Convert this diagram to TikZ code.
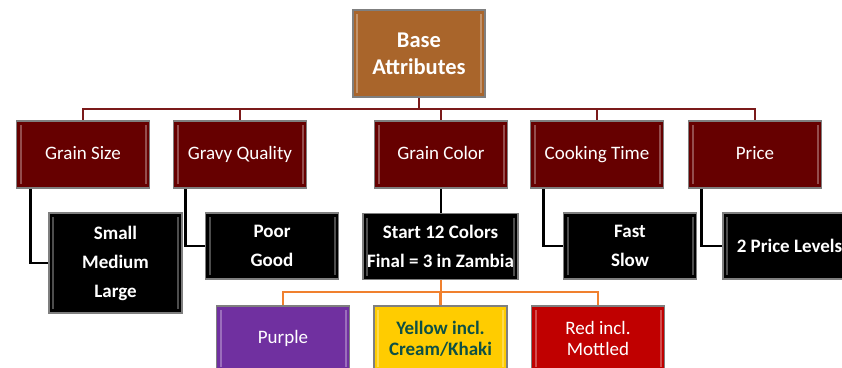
\documentclass[tikz,border=0pt]{standalone}
\usepackage{fontspec}
\setmainfont{Carlito}
\usetikzlibrary{calc}
\definecolor{basec}{HTML}{A9652B}
\definecolor{maroonc}{HTML}{660000}
\definecolor{purplec}{HTML}{7030A0}
\definecolor{yellowc}{HTML}{FFCC00}
\definecolor{yellowtext}{HTML}{0D5045}
\definecolor{redc}{HTML}{C00000}
\definecolor{boxborder}{HTML}{7F7F7F}
\definecolor{linkred}{HTML}{7B1A1A}
\definecolor{linkorange}{HTML}{F0802E}
\tikzset{
  box/.style={draw=boxborder, line width=1.6pt, inner sep=0pt, align=center, text=white,
    minimum width=133pt, minimum height=67pt,
    path picture={
      \draw[white, opacity=0.3, line width=2pt]
        ([xshift=4pt,yshift=-4pt]path picture bounding box.north west) --
        ([xshift=4pt,yshift=4pt]path picture bounding box.south west);
      \draw[white, opacity=0.3, line width=2pt]
        ([xshift=-4pt,yshift=-4pt]path picture bounding box.north east) --
        ([xshift=-4pt,yshift=4pt]path picture bounding box.south east);
    }},
  basebox/.style={box, fill=basec, minimum width=132pt, minimum height=87pt,
    font=\bfseries\fontsize{22.5}{27}\selectfont},
  catbox/.style={box, fill=maroonc, font=\fontsize{19}{22}\selectfont,
    text height=13pt, text depth=4pt},
  valbox/.style={box, fill=black, minimum height=66pt, font=\bfseries\fontsize{19}{29}\selectfont},
  colbox/.style={box, minimum height=65pt, font=\fontsize{19}{21}\selectfont},
  redlink/.style={draw=linkred, line width=2.5pt},
  blacklink/.style={draw=black, line width=2.5pt},
  orangelink/.style={draw=linkorange, line width=2.5pt},
}
\begin{document}
\begin{tikzpicture}[x=1pt,y=-1pt]
\useasboundingbox (0,0) rectangle (842,367);
\clip (0,0) rectangle (842,367);
% connectors first so that boxes sit on top
\coordinate (rbus) at (419,109);
\coordinate (obus) at (441,292);
% nodes
\node[basebox] (base) at (419,53.5) {Base\\Attributes};
\node[catbox] (gs) at (83,154.5) {Grain Size};
\node[catbox] (gq) at (240,154.5) {Gravy Quality};
\node[catbox] (gc) at (441,154.5) {Grain Color};
\node[catbox] (ct) at (597,154.5) {Cooking Time};
\node[catbox] (pr) at (755,154.5) {Price};
\node[valbox, minimum height=100pt] (sml) at (115.5,263) {Small\\Medium\\Large};
\node[valbox] (pg) at (272,246) {Poor\\Good};
\node[valbox, minimum width=155pt] (sc) at (440.5,246.5) {Start 12 Colors\\Final = 3 in Zambia};
\node[valbox] (fs) at (630,246) {Fast\\Slow};
\node[valbox] (pl) at (789.5,246) {2 Price Levels};
\node[colbox, fill=purplec] (pu) at (283,338.5) {Purple};
\node[colbox, fill=yellowc, text=yellowtext, font=\bfseries\fontsize{19}{21}\selectfont] (ye) at (440.5,338.5) {Yellow incl.\\Cream/Khaki};
\node[colbox, fill=redc] (re) at (598,338.5) {Red incl.\\Mottled};
% red connectors
\draw[redlink] (base.south) -- (rbus);
\draw[redlink] (rbus) -| (gs.north);
\draw[redlink] (rbus) -| (gq.north);
\draw[redlink] (rbus) -| (gc.north);
\draw[redlink] (rbus) -| (ct.north);
\draw[redlink] (rbus) -| (pr.north);
% black connectors
\draw[blacklink] ($(gs.south west)+(15,0)$) |- (sml.west);
\draw[blacklink] ($(gq.south west)+(13,0)$) |- (pg.west);
\draw[blacklink] (gc.south) -- (gc.south |- sc.north);
\draw[blacklink] ($(ct.south west)+(14,0)$) |- (fs.west);
\draw[blacklink] ($(pr.south west)+(14,0)$) |- (pl.west);
% orange connectors
\draw[orangelink] (sc.south -| obus) -- (obus);
\draw[orangelink] (obus) -| (pu.north);
\draw[orangelink] (obus) -| (ye.north);
\draw[orangelink] (obus) -| (re.north);
\end{tikzpicture}
\end{document}
